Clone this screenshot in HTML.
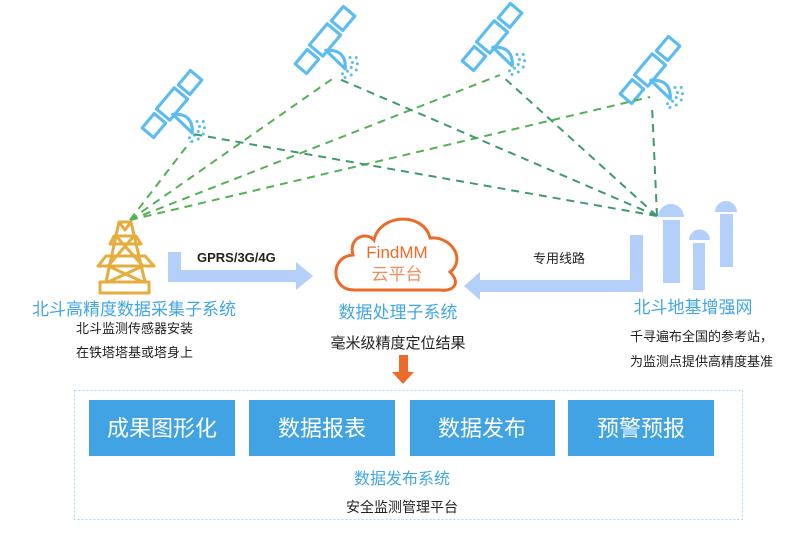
<!DOCTYPE html>
<html><head><meta charset="utf-8"><style>
body{margin:0;background:#fff;}
svg{display:block;font-family:"Liberation Sans","Noto Sans CJK SC",sans-serif;}
</style></head><body>
<svg width="800" height="535" viewBox="0 0 800 535">
<defs>
<g id="sat" fill="none" stroke="#5bbcf2" stroke-width="2.5" stroke-linejoin="round">
  <rect x="-7" y="-11" width="14" height="22" transform="rotate(40)"/>
  <rect x="-6" y="-30" width="12" height="15" transform="rotate(40)"/>
  <rect x="-6" y="15" width="12" height="15" transform="rotate(40)"/>
  <path d="M2,8 Q18,4 20,20 Z" transform="rotate(10)"/>
  <g fill="#5bbcf2" stroke="none">
    <circle cx="20" cy="14" r="1.2"/><circle cx="22" cy="18" r="1.2"/><circle cx="21" cy="22" r="1.2"/><circle cx="18" cy="25" r="1.2"/><circle cx="14" cy="27" r="1.2"/>
    <circle cx="25" cy="14" r="1.2"/><circle cx="26" cy="19" r="1.2"/><circle cx="25" cy="24" r="1.2"/><circle cx="21" cy="28" r="1.2"/><circle cx="16" cy="30" r="1.2"/>
  </g>
</g>
</defs>
<use href="#sat" transform="translate(172,104) scale(1.25)"/>
<use href="#sat" transform="translate(325,40) scale(1.25)"/>
<use href="#sat" transform="translate(492,37) scale(1.25)"/>
<use href="#sat" transform="translate(650,70) scale(1.25)"/>

<g fill="none" stroke-width="2" stroke-dasharray="8,6">
<g stroke="#55b055">
<line x1="130" y1="220" x2="190" y2="142"/>
<line x1="130" y1="220" x2="335" y2="77"/>
<line x1="130" y1="220" x2="500" y2="75"/>
<line x1="130" y1="220" x2="650" y2="97"/>
</g>
<g stroke="#3f9a6e">
<line x1="657" y1="216" x2="652" y2="105"/>
<line x1="657" y1="216" x2="502" y2="76"/>
<line x1="657" y1="216" x2="337" y2="78"/>
<line x1="657" y1="216" x2="193" y2="134"/>
</g>
</g>

<!-- tower -->
<g fill="none" stroke="#e5ad3e" stroke-width="3" stroke-linejoin="round">
<path d="M119,222 H131 L125,230 Z"/>
<path d="M119,222 L106,282 M131,222 L145,282"/>
<path d="M110,244 L114,236 H136 L141,244 Z"/>
<path d="M98,266 L106,256 H145 L154,266 Z"/>
<path d="M116,236 L143,266 L108,282 M134,236 L108,266 L143,282"/>
<rect x="100" y="282" width="49" height="11"/>
</g>

<!-- left arrow -->
<path d="M168,252 H181 V270 H296 V262 L313,276 L296,290 V282 H168 Z" fill="#b5cffb"/>
<text x="197" y="262" font-size="13" font-weight="bold" fill="#222">GPRS/3G/4G</text>

<!-- cloud -->
<path d="M354,290 C330,290 330,256 353,255 C348,238 366,231 374,240 C380,213 424,212 430,238 C452,236 466,260 450,272 C462,284 452,292 440,290 Z" fill="none" stroke="#ec6b2b" stroke-width="3"/>
<text x="397" y="258" font-size="17" fill="#ec6b2b" text-anchor="middle">FindMM</text>
<text x="397" y="280" font-size="17" fill="#f08d5a" text-anchor="middle">云平台</text>
<text x="398" y="318" font-size="17" fill="#42a6e6" text-anchor="middle">数据处理子系统</text>
<text x="398" y="348" font-size="15" fill="#222" text-anchor="middle">毫米级精度定位结果</text>
<path d="M399,355 H408 V372 H414 L403,384 L392,372 H399 Z" fill="#ec6b2b"/>

<!-- right arrow -->
<path d="M630,235 H643 V292 H480 V300 L464,286 L480,272 V280 H630 Z" fill="#b5cffb"/>
<text x="559" y="263" font-size="13" fill="#222" text-anchor="middle">专用线路</text>

<!-- base stations -->
<g fill="#b5cffb">
<path d="M658,217 A13,13 0 0 1 684,217 Z"/><rect x="663" y="220" width="17" height="63"/>
<path d="M689,240 A10,10 0 0 1 710,240 Z"/><rect x="693" y="243" width="12" height="47"/>
<path d="M715,212 A11,11 0 0 1 737,212 Z"/><rect x="720" y="214" width="13" height="53"/>
</g>
<text x="693" y="313" font-size="17" fill="#42a6e6" text-anchor="middle">北斗地基增强网</text>
<text x="630" y="341" font-size="13" fill="#222">千寻遍布全国的参考站，</text>
<text x="630" y="366" font-size="13" fill="#222">为监测点提供高精度基准</text>

<text x="134" y="315" font-size="17" fill="#42a6e6" text-anchor="middle">北斗高精度数据采集子系统</text>
<text x="76" y="333" font-size="13" fill="#222">北斗监测传感器安装</text>
<text x="76" y="357" font-size="13" fill="#222">在铁塔塔基或塔身上</text>

<!-- bottom -->
<rect x="74.5" y="390.5" width="668" height="129" fill="none" stroke="#a8d4f0" stroke-dasharray="2,2"/>
<g fill="#41a3e3">
<rect x="89" y="400" width="146" height="56"/>
<rect x="249" y="400" width="146" height="56"/>
<rect x="410" y="400" width="145" height="56"/>
<rect x="568" y="400" width="146" height="56"/>
</g>
<g font-size="22" fill="#fff" text-anchor="middle">
<text x="162" y="436">成果图形化</text>
<text x="322" y="436">数据报表</text>
<text x="482" y="436">数据发布</text>
<text x="641" y="436">预警预报</text>
</g>
<text x="402" y="484" font-size="16" fill="#42a6e6" text-anchor="middle">数据发布系统</text>
<text x="402" y="512" font-size="14" fill="#222" text-anchor="middle">安全监测管理平台</text>
</svg>
</body></html>
